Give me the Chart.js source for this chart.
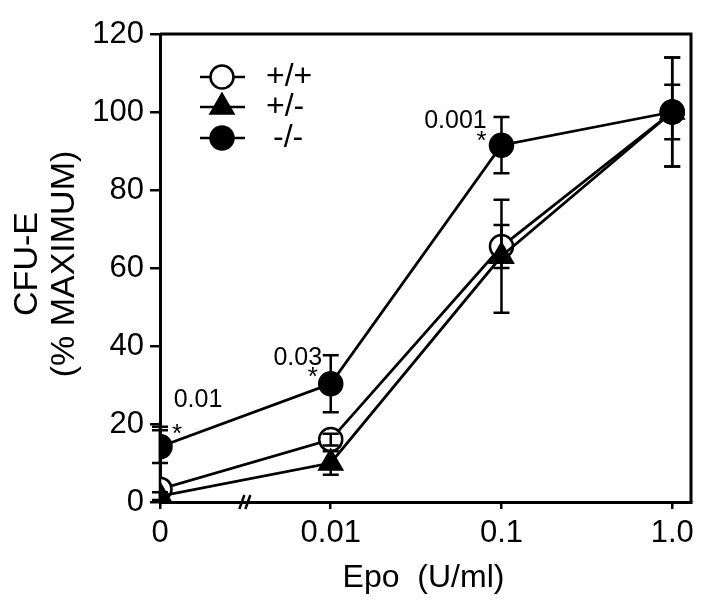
<!DOCTYPE html>
<html>
<head>
<meta charset="utf-8">
<script src="https://cdn.jsdelivr.net/npm/chart.js@4.4.1/dist/chart.umd.min.js"></script>
<style>
  html, body { margin: 0; padding: 0; background: #fff; }
  #wrap { width: 718px; height: 608px; }
</style>
</head>
<body>
<div id="wrap"><canvas id="chartArea" width="718" height="608"></canvas></div>
<script>
// Epo doses (categorical positions on the x axis)
const doseLabels = ['0', '0.01', '0.1', '1.0'];
const seriesNames = ['+/+', '+/-', '-/-'];

// CFU-E, % of maximum
const wildType = [3.3, 16, 65.5, 100];
const heterozygous = [1.5, 10, 63, 100];
const knockout = [14.2, 30.3, 91.5, 100];

// error bar half-lengths
const wildTypeErr = [16, 1.5, 5.5, 7];
const heterozygousErr = [1, 3, 14.5, 14];
const knockoutErr = [4.2, 7.3, 7.2, 14];

// p-values marked on the -/- series
const pValues = ['0.01', '0.03', '0.001'];

const FONT = '"Liberation Sans", Arial, Helvetica, sans-serif';

function toPoints(values) {
    return values.map((v, i) => ({ x: i, y: v }));
}

const errorBars = {
    id: 'errorBars',
    afterDatasetsDraw(chart) {
        const ctx = chart.ctx;
        const area = chart.chartArea;
        const xs = chart.scales.x, ys = chart.scales.y;
        ctx.save();
        ctx.beginPath();
        ctx.rect(0, area.top - 2, chart.width, area.bottom - area.top + 2);
        ctx.clip();
        ctx.strokeStyle = '#000';
        ctx.lineWidth = 2.5;
        chart.data.datasets.forEach(ds => {
            ds.data.forEach((p, i) => {
                const e = ds.errors[i];
                const x = xs.getPixelForValue(p.x);
                const yTop = ys.getPixelForValue(p.y + e);
                const yBot = ys.getPixelForValue(p.y - e);
                ctx.beginPath();
                ctx.moveTo(x, yTop); ctx.lineTo(x, yBot);
                ctx.moveTo(x - 8, yTop); ctx.lineTo(x + 8, yTop);
                ctx.moveTo(x - 8, yBot); ctx.lineTo(x + 8, yBot);
                ctx.stroke();
            });
        });
        ctx.restore();
    }
};

const decorations = {
    id: 'decorations',
    afterDraw(chart) {
        const ctx = chart.ctx;
        const area = chart.chartArea;
        const xs = chart.scales.x;
        ctx.save();

        // top and right frame
        ctx.strokeStyle = '#000';
        ctx.lineWidth = 3;
        ctx.beginPath();
        ctx.moveTo(area.left, area.top);
        ctx.lineTo(area.right, area.top);
        ctx.lineTo(area.right, area.bottom);
        ctx.stroke();

        // axis break
        const bx = xs.getPixelForValue(0.5);
        ctx.lineWidth = 2.5;
        ctx.beginPath();
        ctx.moveTo(bx - 6, area.bottom + 7); ctx.lineTo(bx - 1, area.bottom - 7);
        ctx.moveTo(bx + 0, area.bottom + 7); ctx.lineTo(bx + 5, area.bottom - 7);
        ctx.stroke();

        // p-value annotations beside the -/- points
        const koMeta = chart.getDatasetMeta(2);
        const offsets = [
            { star: [17, -12], text: [38, -47] },
            { star: [-18, -6], text: [-33, -26] },
            { star: [-20, -3], text: [-46, -24] }
        ];
        ctx.fillStyle = '#000';
        ctx.textAlign = 'center';
        ctx.textBaseline = 'middle';
        pValues.forEach((p, i) => {
            const pt = koMeta.data[i];
            const o = offsets[i];
            ctx.font = '25px ' + FONT;
            ctx.fillText(p, pt.x + o.text[0], pt.y + o.text[1]);
            ctx.font = '26px ' + FONT;
            ctx.fillText('*', pt.x + o.star[0], pt.y + o.star[1]);
        });

        // legend
        const rows = [77, 107, 138];
        const labelShift = [0, 0, 7];
        [0, 1, 2].forEach((di, r) => {
            const ds = chart.data.datasets[di];
            const y = rows[r];
            ctx.strokeStyle = '#000';
            ctx.lineWidth = 2.5;
            ctx.beginPath();
            ctx.moveTo(200, y); ctx.lineTo(245, y);
            ctx.stroke();
            ctx.fillStyle = ds.pointBackgroundColor;
            ctx.strokeStyle = '#000';
            ctx.lineWidth = ds.pointBorderWidth;
            Chart.helpers.drawPoint(ctx, {
                pointStyle: ds.pointStyle,
                radius: ds.pointRadius,
                borderWidth: ds.pointBorderWidth
            }, 222, y);
            ctx.fillStyle = '#000';
            ctx.font = '32px ' + FONT;
            ctx.textAlign = 'left';
            ctx.fillText(seriesNames[di], 266 + labelShift[r], y);
        });

        // axis titles
        ctx.font = '32px ' + FONT;
        ctx.textAlign = 'center';
        ctx.textBaseline = 'middle';
        ctx.fillText('Epo  (U/ml)', (area.left + area.right) / 2 - 2, 578);
        ctx.font = '34px ' + FONT;
        ctx.save();
        ctx.translate(28, 264);
        ctx.rotate(-Math.PI / 2);
        ctx.fillText('CFU-E', 0, 0);
        ctx.restore();
        ctx.save();
        ctx.translate(65, 264);
        ctx.rotate(-Math.PI / 2);
        ctx.fillText('(% MAXIMUM)', 0, 0);
        ctx.restore();

        ctx.restore();
    }
};

function series(name, values, errors, style, fill, radius, order) {
    return {
        label: name,
        data: toPoints(values),
        errors: errors,
        borderColor: '#000',
        borderWidth: 2.8,
        pointStyle: style,
        pointRadius: radius,
        pointHoverRadius: radius,
        pointBackgroundColor: fill,
        pointBorderColor: '#000',
        pointBorderWidth: 2.5,
        showLine: true,
        tension: 0,
        order: order
    };
}

const ctx = document.getElementById('chartArea').getContext('2d');
new Chart(ctx, {
    type: 'scatter',
    data: {
        datasets: [
            series(seriesNames[0], wildType, wildTypeErr, 'circle', '#fff', 11.5, 2),
            series(seriesNames[1], heterozygous, heterozygousErr, 'triangle', '#000', 13, 0),
            series(seriesNames[2], knockout, knockoutErr, 'circle', '#000', 11.5, 1)
        ]
    },
    options: {
        responsive: false,
        animation: false,
        events: [],
        layout: { padding: { top: 34, right: 27, left: 0, bottom: 0 } },
        plugins: {
            legend: { display: false },
            tooltip: { enabled: false }
        },
        scales: {
            x: {
                type: 'linear',
                min: 0,
                max: 3.11,
                afterFit: s => { s.height = 106; },
                border: { display: true, color: '#000', width: 3 },
                grid: { display: true, drawOnChartArea: false, drawTicks: true, tickLength: 7, color: '#000', lineWidth: 2.5 },
                ticks: {
                    stepSize: 1,
                    includeBounds: false,
                    autoSkip: false,
                    maxRotation: 0,
                    padding: 6,
                    color: '#000',
                    font: { family: FONT, size: 31 },
                    callback: v => doseLabels[v] !== undefined ? doseLabels[v] : ''
                }
            },
            y: {
                min: 0,
                max: 120,
                afterFit: s => { s.width = 160; },
                border: { display: true, color: '#000', width: 3 },
                grid: { display: true, drawOnChartArea: false, drawTicks: true, tickLength: 10, color: '#000', lineWidth: 2.5 },
                ticks: {
                    stepSize: 20,
                    padding: 6,
                    color: '#000',
                    font: { family: FONT, size: 31 }
                }
            }
        }
    },
    plugins: [errorBars, decorations]
});
</script>
</body>
</html>
